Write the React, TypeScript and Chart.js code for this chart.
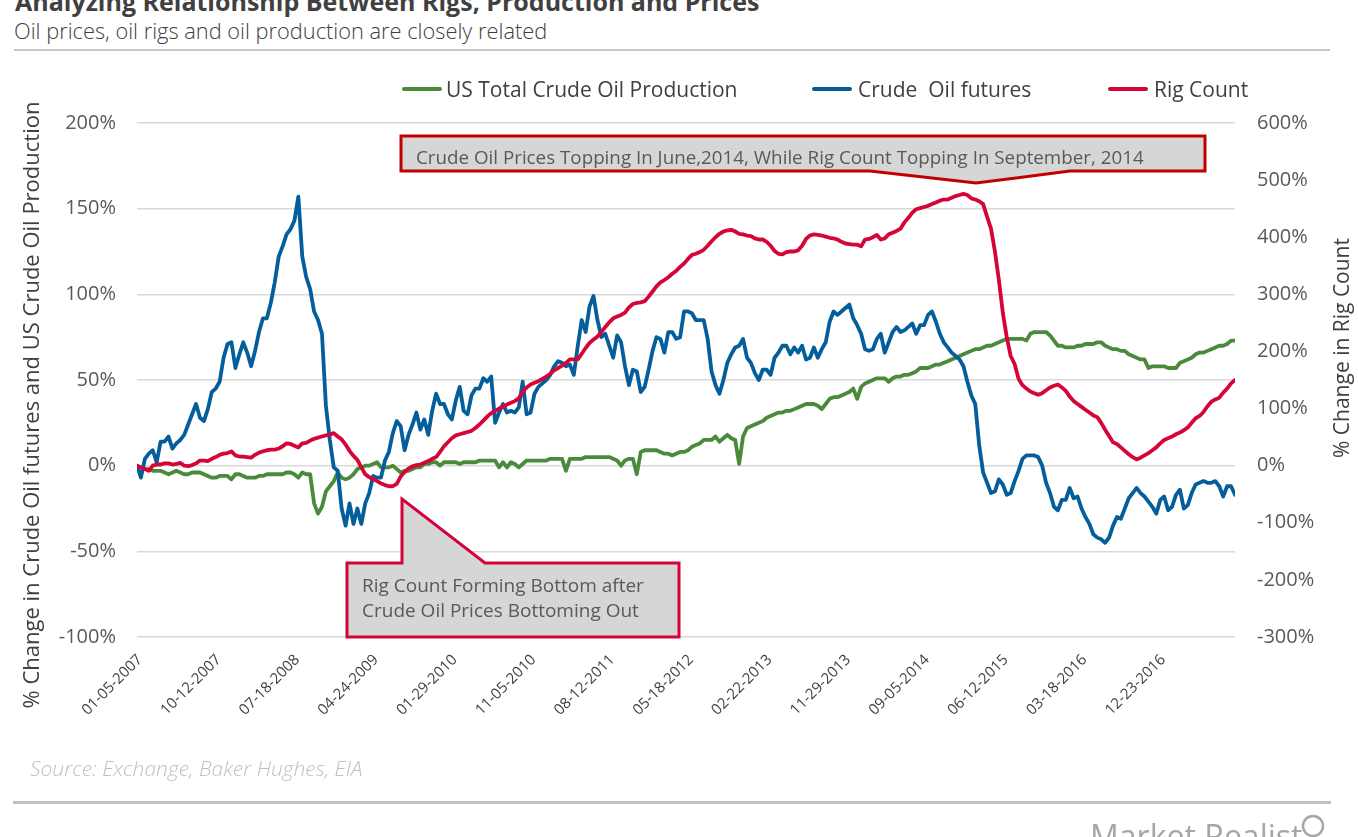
import React, { useEffect, useRef } from "react";
import { Chart, registerables } from "chart.js";

Chart.register(...registerables);

// x tick labels (one every 40 weekly observations)
const TICK_LABELS = [
  "01-05-2007", "10-12-2007", "07-18-2008", "04-24-2009", "01-29-2010",
  "11-05-2010", "08-12-2011", "05-18-2012", "02-22-2013", "11-29-2013",
  "09-05-2014", "06-12-2015", "03-18-2016", "12-23-2016",
];
const WEEKS_PER_TICK = 40;
const LAST_WEEK = 558;
const SAMPLE_WEEKS = 2; // the series below are read every 2 weeks

// % change, US total crude oil production (left axis)
const PRODUCTION = [
  0, -1, -2, -2, -3, -3, -3, -4, -5, -4, -3, -4, -5, -5, -4, -4, -4, -5, -6, -7,
  -7, -6, -6, -6, -8, -5, -5, -6, -7, -7, -7, -6, -6, -5, -5, -5, -5, -5, -4, -4,
  -5, -7, -4, -5, -5, -22, -28, -24, -15, -12, -9, -4, -7, -8, -7, -5, -2, -1, 0, 0,
  1, 2, -1, -1, -1, 0, -2, -4, -3, -3, -2, -1,
  -1, 1, 1, 2, 2, 0, 2, 2, 2, 2, 1, 2, 2, 2, 2, 3, 3, 3, 3, 3,
  -1, 2, -1, 2, 1, -1, 1, 3, 3, 3, 3, 3, 3, 4, 4, 4, 4, -3, 4, 4,
  4, 4, 5, 5, 5, 5, 5, 5, 5, 4, 3, 0, 3, 4, 4, -5, 8, 9, 9, 9,
  9, 8, 7, 7, 6, 7, 8, 8, 9, 11,
  12, 13, 15, 15, 15, 17, 14, 16, 18, 16, 15, 1, 17, 22, 23, 24, 25, 26, 28, 29,
  30, 31, 31, 32, 32, 33, 34, 35, 36, 36, 36, 35, 33, 36, 39, 40, 40, 41, 42, 43,
  45, 39, 46, 48, 49, 50, 51, 51, 51, 49, 51, 52, 52, 53, 53, 54, 55, 57, 57, 57,
  58, 59, 59, 60, 61, 62, 63, 64, 65, 66, 67, 68, 68, 69,
  70, 70, 71, 72, 73, 74, 74, 74, 74, 74, 73, 77, 78, 78, 78, 78, 76, 73, 70, 70,
  69, 69, 69, 70, 70, 71, 71, 71, 72, 72, 70, 69, 68, 68, 67, 67, 65, 64, 63, 62,
  62, 57, 58, 58, 58, 58, 57, 57, 57, 60, 61, 62, 63, 65, 66, 66, 67, 68, 69, 70,
  70, 71, 73, 73,
];

// % change, crude oil futures (left axis)
const FUTURES = [
  0, -7, 4, 7, 9, 2, 14, 14, 17, 10, 13, 15, 18, 24, 30, 36, 28, 26, 33, 43,
  45, 49, 63, 71, 72, 57, 65, 72, 66, 58, 67, 78, 86, 86, 95, 107, 122, 128, 135, 138,
  143, 157, 122, 110, 103, 90, 85, 77, 35, 15, -1, -3, -25, -35, -22, -34, -25, -34, -22, -16,
  -6, -7, -7, 3, 8, 19, 26, 23, 9, 18, 24, 31,
  21, 27, 18, 32, 42, 36, 36, 30, 27, 38, 46, 32, 30, 41, 45, 45, 51, 49, 52, 25,
  31, 36, 31, 32, 31, 34, 49, 30, 31, 42, 46, 48, 50, 53, 58, 61, 60, 58, 59, 53,
  70, 85, 78, 93, 99, 85, 75, 77, 70, 63, 76, 72, 58, 47, 56, 55, 43, 46, 56, 67,
  75, 74, 66, 78, 78, 74, 75, 90, 90, 89,
  85, 85, 85, 74, 55, 47, 42, 50, 60, 65, 69, 70, 74, 63, 60, 54, 50, 56, 56, 53,
  63, 66, 70, 70, 65, 69, 66, 70, 62, 63, 69, 63, 68, 72, 84, 90, 88, 90, 92, 94,
  86, 82, 77, 68, 67, 68, 74, 77, 66, 72, 78, 81, 78, 79, 81, 83, 77, 82, 82, 88,
  90, 84, 77, 72, 69, 66, 64, 62, 58, 49, 41, 36, 12, -4,
  -10, -16, -15, -8, -11, -17, -16, -9, -3, 4, 6, 6, 6, 5, 0, -10, -16, -24, -26, -20,
  -20, -13, -19, -18, -25, -30, -34, -40, -42, -43, -45, -42, -35, -30, -31, -25, -19, -16, -13, -16,
  -18, -21, -24, -28, -20, -18, -26, -24, -17, -14, -25, -23, -16, -11, -10, -9, -10, -10, -9, -12,
  -18, -12, -12, -17,
];

// % change, rig count (right axis)
const RIGS = [
  0, -3, -6, -9, 0, 2, 2, 4, 4, 2, 3, 5, 0, -1, 1, 4, 9, 9, 8, 12,
  15, 19, 21, 22, 25, 18, 16, 16, 15, 14, 19, 23, 25, 27, 28, 28, 30, 34, 39, 38,
  35, 32, 39, 40, 44, 47, 49, 51, 53, 54, 57, 51, 46, 37, 26, 17, 10, -3, -15, -20,
  -24, -27, -31, -34, -36, -36, -32, -19, -11, -5, -1, 1,
  2, 5, 8, 12, 15, 24, 34, 41, 48, 53, 55, 57, 59, 61, 66, 72, 79, 86, 92, 96,
  100, 103, 107, 110, 113, 118, 129, 137, 142, 145, 148, 152, 156, 161, 167, 171, 175, 180, 186, 186,
  186, 196, 206, 215, 221, 226, 234, 243, 251, 258, 261, 264, 268, 277, 283, 285, 286, 288, 296, 305,
  314, 321, 325, 330, 336, 341, 348, 354, 362, 369,
  371, 374, 378, 385, 393, 400, 406, 410, 412, 413, 410, 406, 405, 403, 402, 398, 396, 396, 392, 385,
  376, 371, 370, 374, 375, 375, 377, 385, 397, 403, 405, 404, 403, 401, 399, 398, 396, 392, 389, 388,
  387, 387, 384, 396, 397, 400, 404, 396, 398, 405, 408, 411, 415, 426, 434, 443, 449, 451, 453, 455,
  458, 461, 464, 466, 466, 469, 472, 474, 476, 474, 468, 466, 463, 458,
  436, 415, 375, 325, 268, 225, 192, 178, 152, 141, 135, 130, 127, 124, 127, 132, 137, 140, 142, 137,
  131, 121, 113, 108, 103, 98, 93, 88, 85, 75, 63, 52, 41, 38, 32, 26, 20, 15, 11, 14,
  18, 22, 27, 32, 39, 45, 48, 51, 55, 58, 62, 67, 75, 83, 87, 94, 104, 112, 116, 119,
  128, 135, 144, 150,
];

const SERIES_NAMES = ["US Total Crude Oil Production", "Crude  Oil futures", "Rig Count"];
const GREEN = "#4a8b3b";
const BLUE = "#045e9c";
const RED = "#d60537";
const FONT = '"Open Sans", "DejaVu Sans", sans-serif';

const toPoints = (vals: number[]) => vals.map((y, i) => ({ x: i * SAMPLE_WEEKS, y }));

export default function App() {
  const canvasRef = useRef<HTMLCanvasElement | null>(null);

  useEffect(() => {
    if (!canvasRef.current) return;
    const chart = new Chart(canvasRef.current, {
      type: "line",
      data: {
        datasets: [
          { label: SERIES_NAMES[0], data: toPoints(PRODUCTION), borderColor: GREEN, backgroundColor: GREEN, yAxisID: "y", order: 2 },
          { label: SERIES_NAMES[1], data: toPoints(FUTURES), borderColor: BLUE, backgroundColor: BLUE, yAxisID: "y", order: 1 },
          { label: SERIES_NAMES[2], data: toPoints(RIGS), borderColor: RED, backgroundColor: RED, yAxisID: "y1", order: 0 },
        ],
      },
      options: {
        animation: false,
        responsive: false,
        events: [],
        elements: {
          point: { radius: 0 },
          line: { borderWidth: 3.8, tension: 0, borderJoinStyle: "round", borderCapStyle: "round" },
        },
        layout: { padding: { top: 123, left: 0, right: 0, bottom: 0 } },
        plugins: { legend: { display: false }, tooltip: { enabled: false }, title: { display: false } },
        scales: {
          x: {
            type: "linear",
            min: 0,
            max: LAST_WEEK,
            afterBuildTicks: (axis: any) => {
              axis.ticks = TICK_LABELS.map((_, i) => ({ value: i * WEEKS_PER_TICK }));
            },
            afterFit: (axis: any) => {
              axis.height = 200;
            },
            ticks: {
              autoSkip: false,
              maxRotation: 45,
              minRotation: 45,
              padding: 6,
              labelOffset: 3,
              color: "#404040",
              font: { family: FONT, size: 15 },
              callback: (_v: any, i: number) => TICK_LABELS[i] ?? "",
            },
            grid: { display: false },
            border: { display: false },
          },
          y: {
            position: "left",
            min: -100,
            max: 200,
            afterFit: (axis: any) => {
              axis.width = 137;
            },
            ticks: {
              stepSize: 50,
              padding: 21,
              color: "#595959",
              font: { family: FONT, size: 20 },
              callback: (v: any) => `${v}%`,
            },
            grid: { color: "#d9d9d9", lineWidth: 1.5, drawTicks: false },
            border: { display: false },
          },
          y1: {
            position: "right",
            min: -300,
            max: 600,
            afterFit: (axis: any) => {
              axis.width = 123;
            },
            ticks: {
              stepSize: 100,
              padding: 22,
              color: "#595959",
              font: { family: FONT, size: 20 },
              callback: (v: any) => `${v}%`,
            },
            grid: { display: false, drawTicks: false },
            border: { display: false },
          },
        },
      },
    });
    return () => chart.destroy();
  }, []);

  const legendItems = [
    { color: GREEN, lineX: 402, textX: 446, label: SERIES_NAMES[0] },
    { color: BLUE, lineX: 812, textX: 858, label: SERIES_NAMES[1] },
    { color: RED, lineX: 1108, textX: 1154, label: SERIES_NAMES[2] },
  ];

  return (
    <div style={{ position: "absolute", left: 0, top: 0, width: 1358, height: 837, overflow: "hidden", background: "#fff", fontFamily: FONT }}>
      <div style={{ position: "absolute", left: 15, top: -12, fontSize: 25, lineHeight: "27px", fontWeight: 700, color: "#404040", whiteSpace: "nowrap" }}>
        Analyzing Relationship Between Rigs, Production and Prices
      </div>
      <div style={{ position: "absolute", left: 14, top: 18, fontSize: 21.8, lineHeight: "26px", fontWeight: 300, color: "#404040", whiteSpace: "nowrap" }}>
        Oil prices, oil rigs and oil production are closely related
      </div>
      <div style={{ position: "absolute", left: 14, top: 49, width: 1316, height: 2, background: "#c8c8c8" }} />

      <canvas ref={canvasRef} width={1358} height={837} style={{ position: "absolute", left: 0, top: 0, width: 1358, height: 837 }} />

      {legendItems.map((it) => (
        <React.Fragment key={it.label}>
          <div style={{ position: "absolute", left: it.lineX, top: 87, width: 40, height: 4, borderRadius: 2, background: it.color }} />
          <div style={{ position: "absolute", left: it.textX, top: 76, fontSize: 21, lineHeight: "26px", color: "#404040", whiteSpace: "pre" }}>{it.label}</div>
        </React.Fragment>
      ))}

      <svg width={1358} height={837} style={{ position: "absolute", left: 0, top: 0 }}>
        <path d="M401,136 H1205 V171 H1070 L976,183 L870,171 H401 Z" fill="#d5d6d6" stroke="#c00000" strokeWidth={3} strokeLinejoin="miter" />
        <text x={416} y={164} fontFamily={FONT} fontSize={18.8} fill="#595959">
          Crude Oil Prices Topping In June,2014, While Rig Count Topping In September, 2014
        </text>
        <path d="M347,563 H402 V499 L485,563 H679 V637 H347 Z" fill="#d5d6d6" stroke="#d6003a" strokeWidth={3} strokeLinejoin="miter" />
        <text x={362} y={592} fontFamily={FONT} fontSize={19} fill="#595959">Rig Count Forming Bottom after</text>
        <text x={362} y={617} fontFamily={FONT} fontSize={19} fill="#595959">Crude Oil Prices Bottoming Out</text>
        <circle cx={1313} cy={826} r={10} fill="none" stroke="#a6a6a6" strokeWidth={2.5} />
      </svg>

      <div style={{ position: "absolute", left: 30, top: 405, transform: "translate(-50%, -50%) rotate(-90deg)", fontSize: 22, color: "#404040", whiteSpace: "nowrap" }}>
        % Change in Crude Oil futures and US Crude Oil Production
      </div>
      <div style={{ position: "absolute", left: 1341, top: 348, transform: "translate(-50%, -50%) rotate(-90deg)", fontSize: 21, color: "#404040", whiteSpace: "nowrap" }}>
        % Change in Rig Count
      </div>

      <div style={{ position: "absolute", left: 30, top: 754, fontSize: 21, fontStyle: "italic", fontWeight: 300, color: "#c0c0c0", whiteSpace: "nowrap" }}>
        Source: Exchange, Baker Hughes, EIA
      </div>
      <div style={{ position: "absolute", left: 13, top: 801, width: 1318, height: 3, background: "#c0c0c0" }} />
      <div style={{ position: "absolute", left: 1090, top: 818, fontSize: 32, lineHeight: "36px", color: "#a6a6a6", whiteSpace: "nowrap" }}>
        Market Realist
      </div>
    </div>
  );
}
